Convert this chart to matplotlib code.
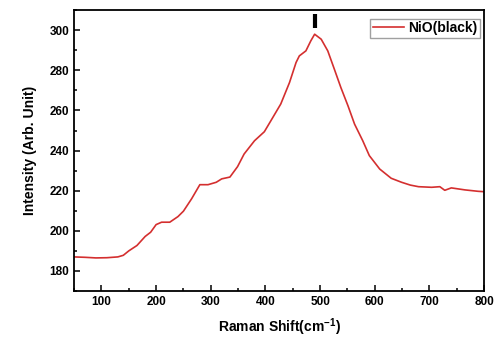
import numpy as np
import matplotlib
matplotlib.use("Agg")
import matplotlib.pyplot as plt
from matplotlib.ticker import MultipleLocator

plt.rcParams['font.family'] = ['Liberation Sans', 'DejaVu Sans']
plt.rcParams['font.weight'] = 'bold'
plt.rcParams['mathtext.fontset'] = 'custom'
plt.rcParams['mathtext.rm'] = 'Liberation Sans:bold'
plt.rcParams['mathtext.bf'] = 'Liberation Sans:bold'
plt.rcParams['mathtext.default'] = 'rm'

# Raman spectrum
shift = [50, 70, 90, 110, 130, 140, 150, 165, 180, 190, 200, 210, 225, 240,
         250, 265, 280, 295, 310, 320, 335, 349, 361, 380, 398, 410, 428, 444,
         456, 462, 474, 483, 490, 502, 514, 526, 538, 551, 563, 578, 590, 609,
         630, 649, 665, 680, 704, 719, 728, 740, 765, 789, 800]
intensity = [187.0, 186.8, 186.5, 186.6, 187.0, 187.8, 190.0, 192.7, 197.2,
             199.3, 203.1, 204.3, 204.3, 207.1, 209.8, 216.0, 223.0, 223.0,
             224.2, 225.9, 226.8, 232.0, 238.3, 244.9, 249.4, 254.9, 263.2,
             273.9, 283.9, 287.2, 289.7, 294.7, 298.0, 295.5, 289.7, 280.6,
             271.4, 262.3, 253.2, 244.9, 237.5, 230.8, 226.2, 224.2, 222.8,
             222.0, 221.7, 222.0, 220.2, 221.4, 220.4, 219.7, 219.5]
label = "NiO(black)"

fig = plt.figure(figsize=(4.94, 3.38), dpi=100)
ax = fig.add_axes([0.150, 0.139, 0.830, 0.831])

ax.plot(shift, intensity, color='#d42f2f', lw=1.2, label=label)

# peak marker above the maximum
i = int(np.argmax(intensity))
ax.plot([shift[i], shift[i]], [intensity[i] + 3.2, intensity[i] + 10],
        color='black', lw=3, solid_capstyle='butt')

ax.set_xlim(50, 800)
ax.set_ylim(170, 310)
ax.xaxis.set_major_locator(MultipleLocator(100))
ax.xaxis.set_minor_locator(MultipleLocator(50))
ax.yaxis.set_major_locator(MultipleLocator(20))
ax.yaxis.set_minor_locator(MultipleLocator(10))
ax.tick_params(which='both', direction='in', width=1.1, labelsize=8.5)
ax.tick_params(which='major', length=4)
ax.tick_params(which='minor', length=2.5)
for s in ax.spines.values():
    s.set_linewidth(1.3)

ax.set_xlabel(r"Raman Shift(cm$^{-1}$)", fontsize=10, fontweight='bold', labelpad=6)
ax.set_ylabel("Intensity (Arb. Unit)", fontsize=10, fontweight='bold', labelpad=9)

leg = ax.legend(loc='upper right', fontsize=10, frameon=True, fancybox=False,
                handlelength=2.2, borderpad=0.2, handletextpad=0.3,
                borderaxespad=0.3, bbox_to_anchor=(1.0, 0.985))
leg.get_frame().set_edgecolor('#888888')
leg.get_frame().set_linewidth(1.0)

fig.savefig("out.png", dpi=100)
